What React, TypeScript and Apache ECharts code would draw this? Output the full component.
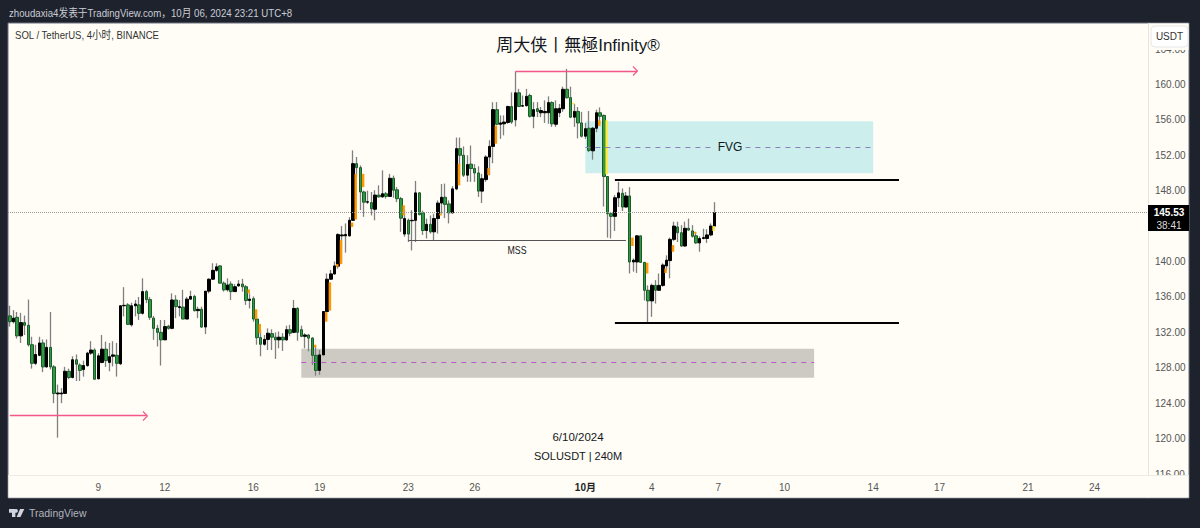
import React, { useEffect, useRef } from 'react';
import * as echarts from 'echarts';

// 4h candles: [open, close, low, high]
const candles: number[][] = [
  [133.86, 133.2, 132.65, 135], [133.2, 133.6, 133, 134.5], [133.7, 131.6, 131.3, 134.3], [131.6, 133.1, 130.8, 134.2],
  [133.1, 132.8, 131.7, 133.9], [132.8, 130.6, 130.4, 135.7], [130.6, 128.5, 127.9, 131.5], [128.5, 129.5, 128.3, 130.6],
  [129.4, 130.8, 129.3, 131.5], [130.8, 128.1, 127.5, 131.2], [128.1, 130.3, 128, 131.2], [130.3, 128.1, 127.8, 134.3],
  [128.1, 125.1, 124, 128.3], [125.05, 125.15, 120.1, 126.1], [125.05, 125.15, 124, 125.7], [125.1, 127.6, 125.1, 128.1],
  [127.6, 126.9, 126.7, 127.9], [126.9, 128.9, 126.8, 129.3], [128.9, 128.4, 126.5, 129.5], [128.3, 127.7, 126.5, 128.5],
  [127.8, 128.25, 127, 128.8], [128.25, 129.65, 128.1, 129.8], [129.65, 130, 129.45, 131], [130, 126.7, 126.7, 130.2],
  [126.75, 129.35, 126.7, 129.65], [128.6, 130.1, 128.5, 131.7], [130.1, 128.8, 128.1, 130.95], [128.6, 129.25, 127.6, 130.8],
  [129.3, 129.45, 128.15, 131], [129.4, 128.5, 127, 130.8], [128.45, 135, 128.3, 135.05], [135, 135.05, 133.8, 137.1],
  [135.1, 132.9, 132.85, 135.3], [132.85, 135, 132.65, 135.35], [135, 135.2, 133.8, 135.65], [135.1, 134.15, 133.4, 136],
  [134.15, 136.6, 134, 138.1], [136.6, 135.7, 135.3, 136.8], [135.7, 133.7, 133.4, 136], [133.6, 132.45, 131.15, 133.85],
  [132.45, 132, 130.4, 132.85], [132, 131.15, 128.25, 133.4], [131.15, 132.65, 131.15, 133.4], [132.7, 132.45, 132.3, 132.85],
  [132.45, 135.65, 132.35, 136.4], [135.65, 134.9, 133.6, 136.2], [134.8, 134.9, 133.8, 135.65], [134.85, 133.5, 133.5, 136.8],
  [133.5, 135.75, 133.5, 136], [135.75, 136.05, 135.65, 136.7], [136.05, 134.45, 134.35, 136.25], [134.45, 134.6, 133.6, 134.9],
  [134.6, 132.6, 132.5, 134.9], [132.6, 136.65, 131.8, 136.65], [136.65, 138, 136.4, 138.1], [138, 139, 137.9, 139.8],
  [139, 139.4, 138.85, 139.8], [139.5, 137.55, 137.55, 139.6], [137.55, 136.8, 136.6, 137.75], [136.8, 137.35, 136.6, 138.1],
  [137.45, 136.6, 135.65, 137.75], [136.6, 137.15, 136.6, 137.45], [137.25, 137.45, 137.15, 137.9], [137.45, 137.15, 136.6, 138.05],
  [137.15, 135.6, 135.1, 137.35], [135.6, 135.75, 134.7, 136.4], [135.8, 133.5, 133.2, 136.05], [133.5, 131.4, 130.6, 133.6],
  [131.4, 130.65, 129.3, 132.3], [130.65, 131.2, 130.5, 131.7], [131.2, 131.9, 130, 132.45], [131.85, 131.45, 130, 132.35],
  [131.45, 131.15, 129, 132], [131.15, 131.45, 130.2, 132.1], [131.45, 131.15, 129.9, 131.9], [131.15, 132.3, 131.05, 132.75],
  [132.3, 131.9, 131.55, 132.85], [132, 134.7, 131.9, 135.65], [134.7, 132, 131.05, 134.85], [132.3, 131.55, 131.45, 132.75],
  [131.55, 131.7, 130.2, 131.9], [131.7, 131.35, 129.85, 131.8], [131.35, 129.4, 128.3, 131.45], [129.4, 127.7, 127.1, 130.4],
  [127.7, 129.45, 127.2, 130], [129.45, 134.35, 129.45, 134.4], [134.35, 138, 134.2, 138.65], [138, 138.6, 137.9, 139.05],
  [138.6, 139.5, 138.5, 140], [139.47, 143.04, 139.2, 143.2], [142.9, 143, 139.8, 144], [142.9, 143.05, 141, 144.3],
  [142.9, 144.65, 142.8, 145], [144.65, 151.05, 144.6, 152.55], [151.05, 150.6, 149.55, 151.8], [150.6, 147.85, 145.8, 150.85],
  [147.85, 146.7, 145.05, 148], [146.7, 146.75, 146.5, 148], [146.65, 145.95, 145.2, 147.85], [145.9, 147.5, 144.65, 148.05],
  [147.5, 147.3, 147.2, 148.6], [147.3, 147.65, 147.2, 150.3], [147.65, 147.35, 147.1, 147.85], [147.35, 149.4, 147.3, 149.9],
  [149.4, 148.05, 147.2, 149.7], [148.1, 147.1, 146.7, 148.4], [147.1, 144.9, 143.35, 147.3], [143.1, 144.85, 142.8, 145.8],
  [144.65, 143.1, 142.2, 144.85], [144.6, 144.65, 141.25, 145.8], [144.65, 147.75, 142.2, 149.1], [147.75, 145.3, 145.2, 147.85],
  [145.5, 143.5, 143, 145.75], [143.5, 144.2, 142.6, 144.85], [144.2, 143.35, 143.15, 145.2], [143.35, 144.85, 142.4, 145.4],
  [144.85, 146.6, 143.15, 146.9], [146.6, 147.25, 145.4, 148.75], [147.25, 146.45, 144.9, 148.8], [146.5, 145.5, 144.3, 146.9],
  [145.5, 148.2, 145.4, 148.5], [148.2, 152.75, 148.05, 154], [152.75, 152, 149.7, 154], [152, 149.75, 149.55, 153],
  [149.75, 150.95, 149, 152], [151, 150.5, 149, 153.1], [150.5, 150, 149, 151], [150, 147.95, 147.3, 150.75],
  [147.95, 149.35, 146.6, 149.9], [149.25, 151.8, 149, 152], [151.8, 153, 149.75, 153.7], [153, 157.15, 151.1, 158],
  [157.15, 155.5, 155.4, 158], [155.5, 155.65, 153.85, 156.5], [155.55, 155.75, 154.25, 156.5], [155.7, 157.5, 155.55, 157.6],
  [157.5, 155.75, 155.55, 159.1], [156, 159.05, 155.25, 161.45], [159.05, 157.5, 157.45, 159.5], [157.55, 157.6, 157.45, 158.75],
  [157.6, 158.65, 157.5, 159.5], [158.75, 156.4, 156.25, 158.95], [156.4, 157.15, 155.05, 158], [157.25, 156.95, 156.3, 158],
  [156.8, 157.05, 156.3, 157.45], [156.8, 156.95, 155.65, 158.2], [156.8, 157.95, 155.55, 158.65], [157.95, 155.55, 155.2, 158.1],
  [155.5, 157.25, 155.2, 158.2], [156.8, 157.3, 156.3, 157.8], [157.25, 159.45, 156.9, 159.75], [159.45, 158.5, 158.4, 161.75],
  [158.5, 156.3, 156.2, 159.75], [156.3, 156.95, 155.2, 157.8], [156.95, 155.65, 153.9, 157.45], [155.65, 154.15, 154, 156.9],
  [154.15, 155, 153.85, 155.65], [155.05, 152.55, 152.35, 157], [152.5, 155.05, 151.5, 155.2], [155.05, 156.8, 154.6, 157.15],
  [156.8, 156.4, 155.5, 157.4], [156.5, 149.6, 146.2, 156.6], [149.6, 145.4, 142.7, 149.6], [145.4, 145.1, 142.6, 145.6],
  [145.1, 147.2, 143.45, 147.5], [147.2, 147.75, 146.15, 149], [147.7, 146.15, 145.7, 148.25], [146.15, 147.4, 146.1, 147.85],
  [147.4, 139.95, 138.65, 148.4], [139.95, 140.15, 138.85, 140.35], [139.95, 142.9, 138.7, 142.95], [142.9, 139.9, 139.9, 142.9],
  [139.9, 136.75, 135.6, 139.95], [136.75, 135.55, 133.05, 137.3], [135.55, 137.3, 133.75, 137.5], [137.3, 136.75, 135.25, 137.9],
  [136.75, 137.3, 136.7, 138.65], [137.3, 139.6, 137.15, 139.8], [139.5, 140.15, 139, 140.7], [140.1, 142.5, 138.1, 142.7],
  [142.5, 144, 142.3, 144.5], [143.9, 143.25, 142.2, 144.5], [143.25, 141.75, 141.65, 144.1], [141.75, 143.75, 141.65, 144.5],
  [143.75, 143.55, 143.45, 144.85], [143.45, 142.85, 142.7, 144.1], [142.9, 142.1, 142, 143.35], [142.1, 142.6, 141.1, 142.85],
  [142.6, 142.7, 142.5, 143.7], [142.6, 143, 142.1, 143.65], [143, 144, 142.85, 144.3], [144, 145.53, 143.9, 146.7],
];

// gap markers beside the candles: [candle index, top, bottom]
const orangeBars: number[][] = [
  [64, 136.85, 136.4], [66, 134.6, 133.5], [67, 132.95, 131.9], [82, 130.6, 130.3], [85, 134.25, 133.2], [86, 137.65, 134.45],
  [88, 139.7, 139.4], [89, 142.4, 139.7], [92, 144.4, 143.9], [93, 149.9, 144.75], [95, 149.9, 148.4], [106, 146.35, 145.2],
  [116, 145.4, 145.2], [121, 151.05, 148.6], [129, 150.55, 149.75], [131, 155.35, 153.3], [159, 155.95, 155.3], [168, 142.7, 141.75],
  [172, 139.85, 138.65], [177, 139.2, 138.7], [179, 141.85, 141.1], [185, 143.35, 143.15],
];
const yellowBars: number[][] = [[152, 157.9, 157.75], [161, 155.95, 149.85], [190, 144, 143.45]];

const SLOTS = 309;
const dayTicks: Record<number, string> = {
  24: '9', 42: '12', 66: '16', 84: '19', 108: '23', 126: '26', 156: '10月',
  174: '4', 192: '7', 210: '10', 234: '14', 252: '17', 276: '21', 294: '24',
};
const categories = Array.from({ length: SLOTS }, (_, i) => String(i));

const lastPrice = 145.53;
const fvgBox = { from: 156, to: 234, top: 155.83, bottom: 149.97, mid: 152.9 };
const demandBox = { from: 79, to: 218, top: 130.14, bottom: 126.87, mid: 128.62 };
const highLine = { from: 164, to: 241, price: 149.18 };
const lowLine = { from: 164, to: 241, price: 133.07 };
const mssLine = { from: 108, to: 167, price: 142.42 };
const arrowLow = { from: 0, to: 37, price: 122.6 };
const arrowHigh = { from: 137, to: 170, price: 161.46 };

const PINK = '#f4558a';
const CREAM = '#fffdf6';
const DARK = '#1e222d';
const FONT = '"Liberation Sans", "Noto Sans CJK SC", sans-serif';

echarts.graphic.registerShape(
  'tvlogo',
  echarts.graphic.extendPath(
    'M0 0H7.5V8.5H3.5V4H0Z M8.5 0A2 2 0 1 1 8.49 0Z M13 0H18L13.5 8.5H9Z',
    {},
  ),
);

const hLine = (l: { from: number; to: number; price: number }, lineStyle: object) => [
  { coord: [l.from, l.price], lineStyle },
  { coord: [l.to, l.price] },
];

const barSeries = (data: number[][], color: string) => ({
  type: 'custom',
  data,
  z: 4,
  encode: { x: 0, y: [1, 2] },
  renderItem: (_: any, api: any) => {
    const top = api.coord([api.value(0), api.value(1)]);
    const bottom = api.coord([api.value(0), api.value(2)]);
    return {
      type: 'rect',
      shape: { x: top[0] + 1.5, y: top[1], width: 2.5, height: bottom[1] - top[1] },
      style: { fill: color },
    };
  },
});

export default function App() {
  const chartRef = useRef<HTMLDivElement>(null);

  useEffect(() => {
    if (!chartRef.current) return;
    document.body.style.margin = '0';
    const chart = echarts.init(chartRef.current, undefined, { renderer: 'svg' });

    const option: any = {
      animation: false,
      backgroundColor: DARK,
      textStyle: { fontFamily: FONT },
      grid: { left: 8, width: 1140, top: 49, height: 425 },
      xAxis: {
        type: 'category',
        data: categories,
        boundaryGap: true,
        z: 6,
        axisLine: { show: false },
        axisTick: { show: false },
        splitLine: { show: false },
        axisLabel: {
          interval: (i: number) => dayTicks[i] !== undefined,
          formatter: (_: string, i: number) =>
            dayTicks[i] === '10月' ? `{b|${dayTicks[i]}}` : dayTicks[i] ?? '',
          color: '#555',
          fontSize: 10,
          margin: 8,
          rich: { b: { fontWeight: 'bold', color: '#222', fontSize: 10 } },
        },
      },
      yAxis: {
        type: 'value',
        position: 'right',
        min: 116,
        max: 164,
        interval: 4,
        z: 1,
        axisLine: { show: false },
        axisTick: { show: false },
        splitLine: { show: false },
        axisLabel: {
          color: '#555',
          fontSize: 10,
          margin: 7,
          // 144 sits behind the price tag, as in the original
          formatter: (v: number) => (v === 144 ? '' : v.toFixed(2)),
        },
      },
      series: [
        {
          // wicks
          type: 'candlestick',
          data: candles,
          barWidth: 1,
          z: 2,
          itemStyle: { color: '#808080', color0: '#808080', borderColor: '#808080', borderColor0: '#808080', borderWidth: 1.3 },
          markArea: {
            silent: true,
            data: [
              [{ coord: [fvgBox.from, fvgBox.top], itemStyle: { color: '#ccefee' } }, { coord: [fvgBox.to, fvgBox.bottom] }],
              [{ coord: [demandBox.from, demandBox.top], itemStyle: { color: '#cdcac4' } }, { coord: [demandBox.to, demandBox.bottom] }],
            ],
          },
          markLine: {
            silent: true,
            symbol: 'none',
            label: { show: false },
            data: [
              [
                { coord: [0, lastPrice], x: 8, lineStyle: { color: '#999', type: 'dotted', width: 1 } },
                { coord: [SLOTS - 1, lastPrice], x: 1148 },
              ],
            ],
          },
        },
        {
          // bodies, no wick of their own
          type: 'candlestick',
          data: candles.map(([o, c]) => [o, c, Math.min(o, c), Math.max(o, c)]),
          barWidth: 3,
          z: 3,
          itemStyle: { color: '#000', color0: '#2f9a44', borderColor: '#000', borderColor0: '#1d5a2a', borderWidth: 1 },
          markLine: {
            silent: true,
            symbol: 'none',
            z: 5,
            label: { show: false },
            data: [
              hLine({ from: fvgBox.from, to: fvgBox.to, price: fvgBox.mid }, { color: '#8f7fb8', type: [5, 5], width: 1 }),
              hLine({ from: demandBox.from, to: demandBox.to, price: demandBox.mid }, { color: '#b85ac8', type: [5, 5], width: 1 }),
              hLine(highLine, { color: '#000', type: 'solid', width: 2 }),
              hLine(lowLine, { color: '#000', type: 'solid', width: 2 }),
              hLine(mssLine, { color: '#555', type: 'solid', width: 1 }),
              hLine(arrowLow, { color: PINK, type: 'solid', width: 1.3 }),
              hLine(arrowHigh, { color: PINK, type: 'solid', width: 1.3 }),
            ],
          },
        },
        barSeries(orangeBars, '#ff9800'),
        barSeries(yellowBars, '#ffeb3b'),
      ],
      graphic: [
        // panel behind the plot
        { type: 'rect', z: -2, shape: { x: 8, y: 23, width: 1181, height: 475 }, style: { fill: CREAM, stroke: '#6f7380', lineWidth: 1 } },
        { type: 'line', z: -1, shape: { x1: 1148.5, y1: 23, x2: 1148.5, y2: 498 }, style: { stroke: '#e6e6e0', lineWidth: 1 } },
        // strips that clip the price scale at the top and at the time axis
        { type: 'rect', z: 5, shape: { x: 8.5, y: 475, width: 1180, height: 22.5 }, style: { fill: CREAM } },
        { type: 'rect', z: 5, shape: { x: 1149, y: 23.5, width: 39.5, height: 26.5 }, style: { fill: CREAM } },
        { type: 'line', z: 5, shape: { x1: 8, y1: 475.5, x2: 1189, y2: 475.5 }, style: { stroke: '#ecece6', lineWidth: 1 } },
        // arrow heads
        { type: 'polyline', z: 7, shape: { points: [[143, 411.5], [147.5, 416], [143, 420.5]] }, style: { stroke: PINK, fill: 'none', lineWidth: 1.1 } },
        { type: 'polyline', z: 7, shape: { points: [[633, 66.5], [637.5, 71], [633, 75.5]] }, style: { stroke: PINK, fill: 'none', lineWidth: 1.1 } },
        // header and footer, squeezed because the original face runs narrow
        { type: 'text', z: 7, x: 9, y: 13, scaleX: 0.88, style: { text: 'zhoudaxia4发表于TradingView.com，10月 06, 2024 23:21 UTC+8', fill: '#c9ccd4', font: `11px ${FONT}`, verticalAlign: 'middle' } },
        { type: 'tvlogo', z: 7, x: 9, y: 509, scaleX: 0.85, scaleY: 0.95, style: { fill: '#d1d4dc' } },
        { type: 'text', z: 7, x: 29, y: 513, scaleX: 0.95, style: { text: 'TradingView', fill: '#b2b5be', font: `11px ${FONT}`, verticalAlign: 'middle' } },
        // chart notes
        { type: 'text', z: 7, x: 15, y: 35, scaleX: 0.87, style: { text: 'SOL / TetherUS, 4小时, BINANCE', fill: '#333', font: `11px ${FONT}`, verticalAlign: 'middle' } },
        { type: 'text', z: 7, x: 578, y: 45, style: { text: '周大侠丨無極Infinity®', fill: '#131722', font: `17px ${FONT}`, align: 'center', verticalAlign: 'middle' } },
        { type: 'text', z: 7, x: 730, y: 147, style: { text: 'FVG', fill: '#131722', font: `12px ${FONT}`, align: 'center', verticalAlign: 'middle', backgroundColor: '#ccefee', padding: [1, 3] } },
        { type: 'text', z: 7, x: 517, y: 250, scaleX: 0.8, style: { text: 'MSS', fill: '#131722', font: `11px ${FONT}`, align: 'center', verticalAlign: 'middle' } },
        { type: 'text', z: 7, x: 578, y: 437, style: { text: '6/10/2024', fill: '#131722', font: `11.5px ${FONT}`, align: 'center', verticalAlign: 'middle' } },
        { type: 'text', z: 7, x: 578, y: 456, style: { text: 'SOLUSDT | 240M', fill: '#131722', font: `11px ${FONT}`, align: 'center', verticalAlign: 'middle' } },
        // price tag and unit button
        { type: 'rect', z: 7, shape: { x: 1148, y: 205, width: 41, height: 26 }, style: { fill: '#000' } },
        { type: 'text', z: 8, x: 1169, y: 212, style: { text: lastPrice.toFixed(2), fill: '#fff', font: `bold 10px ${FONT}`, align: 'center', verticalAlign: 'middle' } },
        { type: 'text', z: 8, x: 1169, y: 225, style: { text: '38:41', fill: '#ddd', font: `10px ${FONT}`, align: 'center', verticalAlign: 'middle' } },
        { type: 'rect', z: 7, shape: { x: 1151, y: 26, width: 37, height: 21, r: 4 }, style: { fill: '#fff', stroke: '#e6e6e6', lineWidth: 1 } },
        { type: 'text', z: 8, x: 1169.5, y: 36.5, style: { text: 'USDT', fill: '#333', font: `10px ${FONT}`, align: 'center', verticalAlign: 'middle' } },
      ],
    };

    chart.setOption(option);
    return () => chart.dispose();
  }, []);

  return <div ref={chartRef} style={{ width: 1200, height: 528 }} />;
}
